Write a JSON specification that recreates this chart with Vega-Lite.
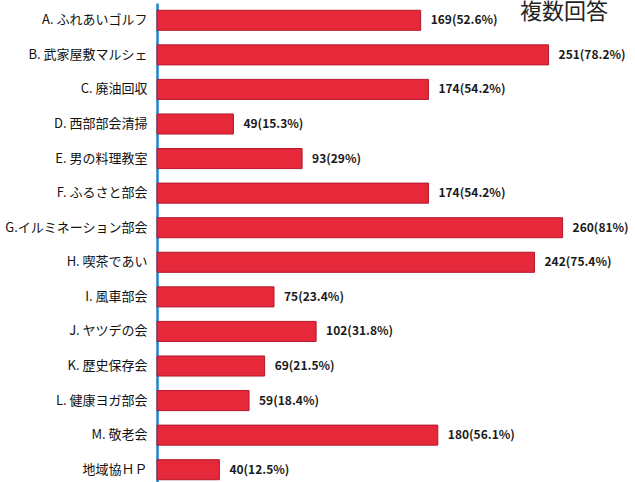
{
  "$schema": "https://vega.github.io/schema/vega-lite/v6.json",
  "autosize": "none",
  "width": 468,
  "height": 484,
  "padding": {"left": 157, "top": 3, "right": 10, "bottom": 0},
  "background": "white",
  "title": {
    "text": "複数回答",
    "anchor": "start",
    "frame": "group",
    "orient": "top",
    "baseline": "alphabetic",
    "offset": 0,
    "dy": 38,
    "dx": 363,
    "fontSize": 22,
    "fontWeight": "normal",
    "font": "Noto Sans CJK JP",
    "color": "#222222"
  },
  "data": {
    "values": [
      {"item": "A. ふれあいゴルフ", "count": 169, "label": "169(52.6%)"},
      {"item": "B. 武家屋敷マルシェ", "count": 251, "label": "251(78.2%)"},
      {"item": "C. 廃油回収", "count": 174, "label": "174(54.2%)"},
      {"item": "D. 西部部会清掃", "count": 49, "label": "49(15.3%)"},
      {"item": "E. 男の料理教室", "count": 93, "label": "93(29%)"},
      {"item": "F. ふるさと部会", "count": 174, "label": "174(54.2%)"},
      {"item": "G.イルミネーション部会", "count": 260, "label": "260(81%)"},
      {"item": "H. 喫茶であい", "count": 242, "label": "242(75.4%)"},
      {"item": "I. 風車部会", "count": 75, "label": "75(23.4%)"},
      {"item": "J. ヤツデの会", "count": 102, "label": "102(31.8%)"},
      {"item": "K. 歴史保存会", "count": 69, "label": "69(21.5%)"},
      {"item": "L. 健康ヨガ部会", "count": 59, "label": "59(18.4%)"},
      {"item": "M. 敬老会", "count": 180, "label": "180(56.1%)"},
      {"item": "地域協ＨＰ", "count": 40, "label": "40(12.5%)"}
    ]
  },
  "encoding": {
    "y": {
      "field": "item",
      "type": "nominal",
      "sort": null,
      "scale": {"paddingInner": 0.42, "paddingOuter": 0.21},
      "axis": {
        "title": null,
        "ticks": false,
        "labelPadding": 10,
        "labelFontSize": 13,
        "labelFont": "Noto Sans CJK JP",
        "labelColor": "#111111",
        "domainColor": "#1e86c8",
        "domainWidth": 2.5,
        "labelLimit": 200
      }
    },
    "x": {
      "field": "count",
      "type": "quantitative",
      "scale": {"domain": [0, 300], "nice": false},
      "axis": null
    }
  },
  "layer": [
    {
      "mark": {"type": "bar", "color": "#e6283b", "stroke": "#b3172a", "strokeWidth": 1}
    },
    {
      "mark": {
        "type": "text",
        "align": "left",
        "baseline": "middle",
        "dx": 10,
        "fontSize": 12,
        "fontWeight": "bold",
        "font": "Noto Sans CJK JP",
        "color": "#1a1a1a"
      },
      "encoding": {"text": {"field": "label"}}
    }
  ],
  "config": {"view": {"stroke": null}}
}
